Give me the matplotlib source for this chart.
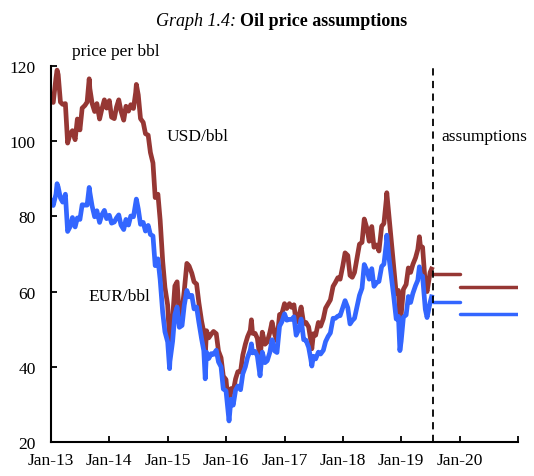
import matplotlib
matplotlib.use("Agg")
import matplotlib.pyplot as plt
import pandas as pd

plt.rcParams["font.family"] = ["Liberation Serif", "DejaVu Serif"]

# oil price, twice a month
dates = [
    # 2013
    "2013-01-01", "2013-01-15", "2013-02-01", "2013-02-08", "2013-02-15", "2013-03-01", "2013-03-15",
    "2013-04-01", "2013-04-15", "2013-05-01", "2013-05-15", "2013-06-01", "2013-06-15", "2013-07-01",
    "2013-07-15", "2013-08-01", "2013-08-15", "2013-08-28", "2013-09-01", "2013-09-15", "2013-10-01",
    "2013-10-15", "2013-11-01", "2013-11-15", "2013-12-01", "2013-12-15",
    # 2014
    "2014-01-01", "2014-01-15", "2014-02-01", "2014-02-15", "2014-03-01", "2014-03-15", "2014-04-01",
    "2014-04-15", "2014-05-01", "2014-05-15", "2014-06-01", "2014-06-15", "2014-06-19", "2014-07-01",
    "2014-07-15", "2014-08-01", "2014-08-15", "2014-09-01", "2014-09-15", "2014-10-01", "2014-10-15",
    "2014-11-01", "2014-11-15", "2014-11-28", "2014-12-01", "2014-12-15",
    # 2015
    "2015-01-01", "2015-01-13", "2015-01-15", "2015-02-01", "2015-02-15", "2015-03-01", "2015-03-15",
    "2015-04-01", "2015-04-15", "2015-05-01", "2015-05-15", "2015-06-01", "2015-06-15", "2015-07-01",
    "2015-07-15", "2015-08-01", "2015-08-15", "2015-08-24", "2015-09-01", "2015-09-15", "2015-10-01",
    "2015-10-15", "2015-11-01", "2015-11-15", "2015-12-01", "2015-12-15",
    # 2016
    "2016-01-01", "2016-01-20", "2016-02-01", "2016-02-15", "2016-03-01", "2016-03-15", "2016-04-01",
    "2016-04-15", "2016-05-01", "2016-05-15", "2016-06-01", "2016-06-08", "2016-06-15", "2016-07-01",
    "2016-07-15", "2016-08-01", "2016-08-15", "2016-09-01", "2016-09-15", "2016-10-01", "2016-10-15",
    "2016-11-01", "2016-11-15", "2016-12-01", "2016-12-15",
    # 2017
    "2017-01-01", "2017-01-15", "2017-02-01", "2017-02-15", "2017-03-01", "2017-03-15", "2017-04-01",
    "2017-04-15", "2017-05-01", "2017-05-15", "2017-06-01", "2017-06-15", "2017-06-21", "2017-07-01",
    "2017-07-15", "2017-08-01", "2017-08-15", "2017-09-01", "2017-09-15", "2017-10-01", "2017-10-15",
    "2017-11-01", "2017-11-15", "2017-12-01", "2017-12-15",
    # 2018
    "2018-01-01", "2018-01-15", "2018-02-01", "2018-02-15", "2018-03-01", "2018-03-15", "2018-04-01",
    "2018-04-15", "2018-05-01", "2018-05-15", "2018-06-01", "2018-06-15", "2018-07-01", "2018-07-15",
    "2018-08-01", "2018-08-15", "2018-09-01", "2018-09-15", "2018-10-01", "2018-10-03", "2018-10-15",
    "2018-11-01", "2018-11-15", "2018-12-01", "2018-12-15", "2018-12-24",
    # 2019
    "2019-01-01", "2019-01-15", "2019-02-01", "2019-02-15", "2019-03-01", "2019-03-15", "2019-04-01",
    "2019-04-15", "2019-04-25", "2019-05-01", "2019-05-15", "2019-06-01", "2019-06-12", "2019-07-01",
    "2019-07-10",
]

usd = [
    111.1, 110.3, 116.8, 118.9, 117.7, 110.4, 109.8, 110.0, 99.5, 102.0, 102.8, 100.4, 105.9, 103.0,
    108.8, 109.5, 110.4, 116.6, 114.0, 110.1, 107.9, 110.0, 105.9, 108.5, 111.0, 108.8,
    110.8, 106.4, 106.0, 109.1, 111.0, 108.0, 105.6, 109.3, 108.0, 109.7, 108.7, 113.0, 115.1, 112.3,
    106.0, 105.0, 102.0, 101.6, 97.0, 94.2, 85.0, 85.9, 79.0, 70.2, 68.0, 61.1,
    56.4, 46.6, 48.0, 52.9, 61.5, 62.6, 53.0, 55.1, 60.3, 67.5, 66.8, 64.9, 62.6, 62.0,
    57.1, 52.2, 49.2, 42.7, 49.6, 47.7, 48.7, 49.4, 48.8, 44.2, 42.4, 37.5,
    36.6, 27.9, 34.2, 33.4, 36.8, 38.7, 38.7, 43.1, 46.0, 48.0, 49.7, 52.5, 48.9, 48.9,
    47.6, 42.1, 49.2, 46.0, 46.6, 49.1, 51.9, 48.6, 46.9, 53.9, 54.0,
    56.8, 55.5, 56.8, 55.8, 56.5, 51.8, 53.5, 55.9, 51.5, 51.8, 50.6, 46.9, 44.8, 48.8,
    48.4, 51.8, 50.8, 52.8, 55.6, 56.8, 57.8, 61.4, 62.4, 63.7, 63.3,
    66.9, 70.3, 69.6, 64.3, 63.8, 65.1, 69.3, 72.6, 73.1, 79.3, 76.8, 73.4, 77.3, 71.8,
    72.4, 70.8, 77.4, 78.1, 84.9, 86.3, 80.8, 72.9, 66.6, 59.5, 60.3, 50.5,
    53.8, 60.6, 61.9, 66.3, 65.1, 67.2, 69.0, 71.2, 74.6, 72.2, 71.8, 61.9, 60.0, 65.1,
    66.0,
]

eur = [
    84.2, 82.9, 85.9, 88.7, 87.8, 84.9, 83.8, 85.9, 76.0, 77.3, 79.7, 77.2, 79.6, 79.2,
    83.1, 83.0, 83.0, 87.7, 86.4, 82.8, 79.9, 81.5, 78.4, 80.4, 81.6, 79.4,
    80.3, 78.2, 78.5, 79.6, 80.4, 77.7, 76.5, 79.2, 77.7, 80.1, 79.9, 83.7, 84.6, 82.0,
    77.9, 78.4, 76.1, 77.6, 75.2, 74.8, 66.9, 68.7, 63.2, 56.2, 54.4, 49.3,
    46.6, 39.5, 41.4, 46.8, 53.9, 55.9, 50.5, 51.0, 56.4, 60.3, 58.6, 59.0, 55.4, 55.9,
    51.9, 47.5, 44.3, 36.8, 43.9, 42.2, 43.5, 43.3, 44.4, 41.3, 40.0, 34.1,
    33.6, 25.6, 31.4, 29.8, 33.8, 34.9, 33.9, 38.1, 40.0, 42.5, 44.4, 46.1, 43.7, 44.1,
    42.9, 37.6, 43.9, 41.1, 41.6, 43.8, 47.2, 44.2, 43.8, 50.8, 51.9,
    54.1, 52.4, 52.6, 52.6, 53.3, 48.4, 50.0, 52.7, 47.2, 47.1, 45.2, 41.9, 40.2, 42.8,
    42.1, 43.9, 43.4, 44.4, 46.7, 48.1, 49.0, 52.9, 52.9, 53.5, 53.6,
    55.8, 57.6, 55.7, 51.4, 52.3, 52.9, 56.3, 59.0, 60.9, 67.2, 65.6, 63.3, 66.1, 61.4,
    62.4, 62.7, 66.7, 67.3, 73.2, 75.0, 69.7, 63.9, 58.9, 52.7, 53.4, 44.3,
    46.8, 53.2, 53.8, 58.7, 57.1, 59.5, 61.6, 63.0, 66.6, 64.5, 64.1, 55.3, 53.1, 57.1,
    58.6,
]

# assumption periods and levels
assume_start = ["2019-07-19", "2020-01-01"]
assume_end = ["2020-01-01", "2021-01-01"]
usd_assume = [64.8, 61.2]
eur_assume = [57.3, 54.1]
cutoff = "2019-07-19"

tick_years = list(range(2013, 2022))
tick_labels = ["Jan-13", "Jan-14", "Jan-15", "Jan-16", "Jan-17", "Jan-18", "Jan-19", "Jan-20", ""]

red = "#963734"
blue = "#3366FF"

x = pd.to_datetime(dates)

fig = plt.figure(figsize=(5.34, 4.77), dpi=100)
W, H = 534, 477
ax = fig.add_axes([51 / W, (H - 443) / H, (518 - 51) / W, (443 - 67) / H])

ax.plot(x, usd, color=red, lw=3.4, solid_joinstyle="round")
ax.plot(x, eur, color=blue, lw=3.4, solid_joinstyle="round")

for s, e, u, v in zip(assume_start, assume_end, usd_assume, eur_assume):
    s, e = pd.Timestamp(s), pd.Timestamp(e)
    ax.plot([s, e], [u, u], color=red, lw=2.5, solid_capstyle="round")
    ax.plot([s, e], [v, v], color=blue, lw=2.5, solid_capstyle="round")

ax.axvline(pd.Timestamp(cutoff), color="black", lw=1.3, ls=(0, (4, 3)))

ax.set_xlim(pd.Timestamp("2013-01-01"), pd.Timestamp("2021-01-01"))
ax.set_ylim(20, 120)
ax.set_yticks(range(20, 121, 20))
ax.set_xticks([pd.Timestamp(f"{y}-01-01") for y in tick_years])
ax.set_xticklabels(tick_labels)

for side in ["top", "right"]:
    ax.spines[side].set_visible(False)
for side in ["left", "bottom"]:
    ax.spines[side].set_linewidth(1.5)
ax.tick_params(direction="in", length=4, width=1.3, labelsize=12.5)
ax.tick_params(axis="y", pad=11)
ax.tick_params(axis="x", pad=7)

# titles and labels in figure pixels
def ftext(px, py, s, **kw):
    fig.text(px / W, 1 - py / H, s, va="center", **kw)

ftext(236, 21, "Graph 1.4:", ha="right", fontsize=13, style="italic")
ftext(240, 21, "Oil price assumptions", ha="left", fontsize=13, weight="bold")
ftext(72, 52, "price per bbl", fontsize=12.5)
ftext(167, 137, "USD/bbl", fontsize=12.5)
ftext(88, 297, "EUR/bbl", fontsize=12.5)
ftext(441, 137, "assumptions", fontsize=12.5)

fig.savefig("out.png", dpi=100)
